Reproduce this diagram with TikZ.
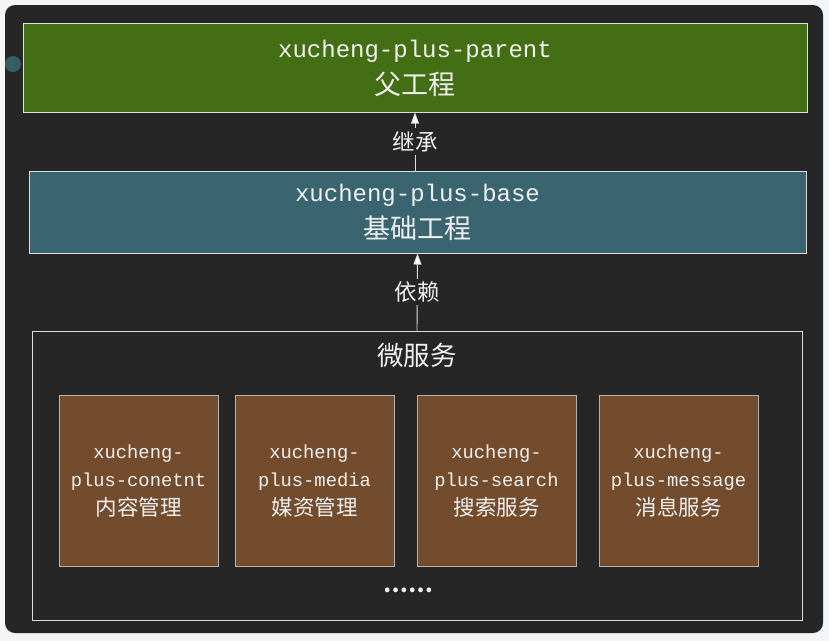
\documentclass[tikz,border=0pt]{standalone}
\usepackage{fontspec}
\usetikzlibrary{arrows.meta}
\newfontfamily\monofam{Liberation Mono}
\newfontfamily\cjkfam{Noto Sans CJK SC}
\definecolor{pagebg}{HTML}{F4F5F6}
\definecolor{panel}{HTML}{262626}
\definecolor{parentgreen}{HTML}{446E14}
\definecolor{baseteal}{HTML}{3A6470}
\definecolor{svcbrown}{HTML}{734C2D}
\definecolor{edgegray}{HTML}{DCDCDC}
\definecolor{svcedge}{HTML}{B4B4B4}
\definecolor{txt}{HTML}{F0F0F0}
\definecolor{dotteal}{HTML}{3B6A6C}
\newcommand{\bigmono}{\monofam\fontsize{24}{24}\selectfont}
\newcommand{\bigcjk}{\cjkfam\fontsize{27}{27}\selectfont}
\newcommand{\smallmono}{\monofam\fontsize{18.8}{18.8}\selectfont}
\newcommand{\smallcjk}{\cjkfam\fontsize{21.5}{21.5}\selectfont}
\begin{document}
\begin{tikzpicture}[x=1pt,y=-1pt,
  bigbox/.style={draw=edgegray, line width=1pt, text=txt, align=center,
    inner sep=0pt, font=\fontsize{24}{37}\selectfont},
  svcbox/.style={draw=svcedge, line width=1pt, fill=svcbrown, text=txt,
    minimum width=159pt, minimum height=171pt, inner sep=0pt, align=center,
    font=\fontsize{18.8}{27.5}\selectfont},
  link/.style={draw=edgegray, line width=0.9pt,
    -{Triangle[length=11pt,width=8pt,fill=white]}},
  tag/.style={fill=panel, text=txt, inner sep=3pt,
    font=\cjkfam\fontsize{22.5}{22.5}\selectfont}]
% page and dark panel
\fill[pagebg] (0,0) rectangle (829,641);
\useasboundingbox (0,0) rectangle (829,641);
\fill[panel, rounded corners=10pt] (5,5) rectangle (823,633);
\fill[dotteal, opacity=0.85] (13,64) circle (8pt);

% parent and base projects
\node[bigbox, fill=parentgreen, minimum width=784pt, minimum height=89pt]
  (parent) at (415,67.5)
  {\rule{0pt}{19pt}{\bigmono xucheng-plus-parent}\\{\bigcjk 父工程}};
\node[bigbox, fill=baseteal, minimum width=777pt, minimum height=82pt]
  (base) at (417.5,212) {{\bigmono xucheng-plus-base}\\{\bigcjk 基础工程}};

% microservice container
\node[draw=edgegray, line width=1pt, fill=panel, minimum width=770pt,
  minimum height=289pt, inner sep=0pt] (svc) at (417,475.5) {};
\node[text=txt, font=\cjkfam\fontsize{26.5}{26.5}\selectfont, inner sep=0pt]
  (svctitle) at (417,355) {微服务};

\node[svcbox] (content) at (138.5,480.5)
  {\rule{0pt}{15pt}{\smallmono xucheng-}\\{\smallmono plus-conetnt}\\[2pt]{\smallcjk 内容管理}};
\node[svcbox] (media) at (314.5,480.5)
  {\rule{0pt}{15pt}{\smallmono xucheng-}\\{\smallmono plus-media}\\[2pt]{\smallcjk 媒资管理}};
\node[svcbox] (search) at (496.5,480.5)
  {\rule{0pt}{15pt}{\smallmono xucheng-}\\{\smallmono plus-search}\\[2pt]{\smallcjk 搜索服务}};
\node[svcbox] (message) at (678.5,480.5)
  {\rule{0pt}{15pt}{\smallmono xucheng-}\\{\smallmono plus-message}\\[2pt]{\smallcjk 消息服务}};
\node[text=txt, font=\cjkfam\bfseries\fontsize{22}{22}\selectfont, inner sep=0pt]
  (more) at (408,590) {……};

% relations
\draw[link] (parent.south |- base.north) -- node[tag] {继承} (parent.south);
\draw[link] (svc.north) -- node[tag] {依赖} (base.south);
\end{tikzpicture}
\end{document}
